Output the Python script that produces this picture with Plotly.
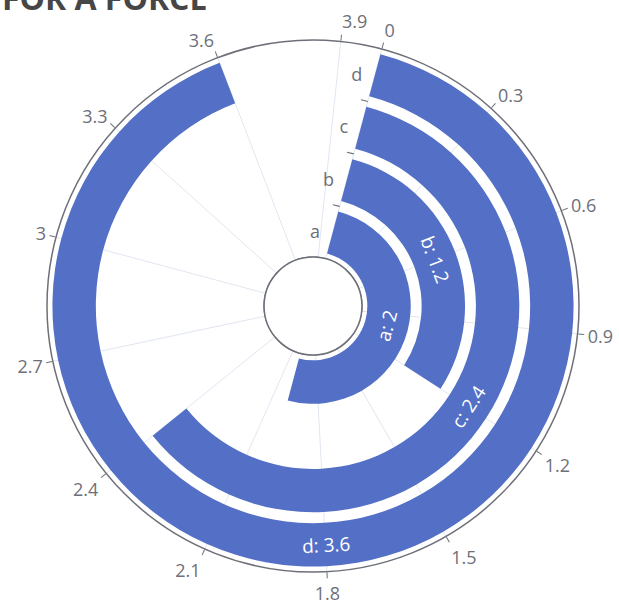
import math
import plotly.graph_objects as go

# ---- data ----
categories = ["a", "b", "c", "d"]
values = [2, 1.2, 2.4, 3.6]
angle_ticks = [0, 0.3, 0.6, 0.9, 1.2, 1.5, 1.8, 2.1, 2.4, 2.7, 3, 3.3, 3.6, 3.9]
angle_tick_labels = ["0", "0.3", "0.6", "0.9", "1.2", "1.5", "1.8", "2.1", "2.4", "2.7", "3", "3.3", "3.6", "3.9"]
angle_max = 4
title_text = "FOR A FORCE"

# ---- layout constants ----
W, H = 619, 606
CX, CY = 313, 300          # centre in px (y measured from bottom)
R_OUT = 266                # outer radius px
HOLE = 0.184
R_IN = R_OUT * HOLE
ROTATION = 75              # where value 0 sits (deg, ccw from east)
BAR_COLOR = "#5470C6"
AXIS_COLOR = "#6E7079"
GRID_COLOR = "#E0E6F1"
FONT = "Open Sans"
n = len(categories)


def deg(v):
    return v * 360.0 / angle_max


def rpx(r):
    return R_IN + r / n * (R_OUT - R_IN)


fig = go.Figure()

# bars (arcs)
fig.add_trace(go.Barpolar(
    r=[0.8] * n,
    base=[i + 0.1 for i in range(n)],
    theta=[deg(v) / 2 for v in values],
    width=[deg(v) for v in values],
    marker=dict(color=BAR_COLOR, line=dict(width=0)),
    hoverinfo="skip", showlegend=False,
))

# inner circle at the hole edge
fig.add_trace(go.Scatterpolar(
    r=[0] * 361, theta=list(range(361)), mode="lines",
    line=dict(color=AXIS_COLOR, width=1.3),
    hoverinfo="skip", showlegend=False, cliponaxis=False,
))

# radial axis tick marks at category boundaries
tr, tt = [], []
for b in range(1, n):
    d = math.degrees(7.0 / rpx(b))
    tr += [b, b, None]
    tt += [0, -d, None]
fig.add_trace(go.Scatterpolar(
    r=tr, theta=tt, mode="lines",
    line=dict(color=AXIS_COLOR, width=1.2),
    hoverinfo="skip", showlegend=False, cliponaxis=False,
))

# value labels inside bars
annotations = []
for i, (c, v) in enumerate(zip(categories, values)):
    mid = deg(v) / 2
    phi = (90 - ROTATION) + mid          # clockwise from top
    rot = phi - 180
    while rot <= -90:
        rot += 180
    while rot > 90:
        rot -= 180
    a = math.radians(ROTATION - mid)
    R = rpx(i + 0.5)
    x = (CX + R * math.cos(a)) / W
    y = (CY + R * math.sin(a)) / H
    annotations.append(dict(
        x=x, y=y, xref="paper", yref="paper", text=f"{c}: {v:g}",
        showarrow=False, textangle=rot, xanchor="center", yanchor="middle",
        font=dict(family=FONT, size=19, color="white"),
    ))

annotations.append(dict(
    x=0, y=1 - 21 / H, xref="paper", yref="paper", text=f"<b>{title_text}</b>",
    showarrow=False, xanchor="left", yanchor="bottom",
    font=dict(family=FONT, size=32, color="#464646"),
))

fig.update_layout(
    width=W, height=H,
    margin=dict(l=0, r=0, t=0, b=0),
    paper_bgcolor="white",
    showlegend=False,
    font=dict(family=FONT, size=18, color=AXIS_COLOR),
    annotations=annotations,
    polar=dict(
        domain=dict(x=[(CX - R_OUT) / W, (CX + R_OUT) / W],
                    y=[(CY - R_OUT) / H, (CY + R_OUT) / H]),
        bgcolor="white",
        hole=HOLE,
        bargap=0,
        angularaxis=dict(
            rotation=ROTATION, direction="clockwise",
            tickmode="array",
            tickvals=[deg(t) for t in angle_ticks],
            ticktext=angle_tick_labels,
            showline=True, linecolor=AXIS_COLOR, linewidth=1.5,
            ticks="outside", ticklen=6, tickcolor=AXIS_COLOR, tickwidth=1.2,
            tickfont=dict(family=FONT, size=18, color=AXIS_COLOR),
            showgrid=True, gridcolor=GRID_COLOR, gridwidth=1,
        ),
        radialaxis=dict(
            range=[0, n], angle=ROTATION, side="counterclockwise",
            tickmode="array",
            tickvals=[i + 0.5 for i in range(n)],
            ticktext=categories,
            tickangle=ROTATION,
            ticks="",
            showline=False, showgrid=False,
            tickfont=dict(family=FONT, size=18, color=AXIS_COLOR),
        ),
    ),
)

fig.write_html("out.html")
